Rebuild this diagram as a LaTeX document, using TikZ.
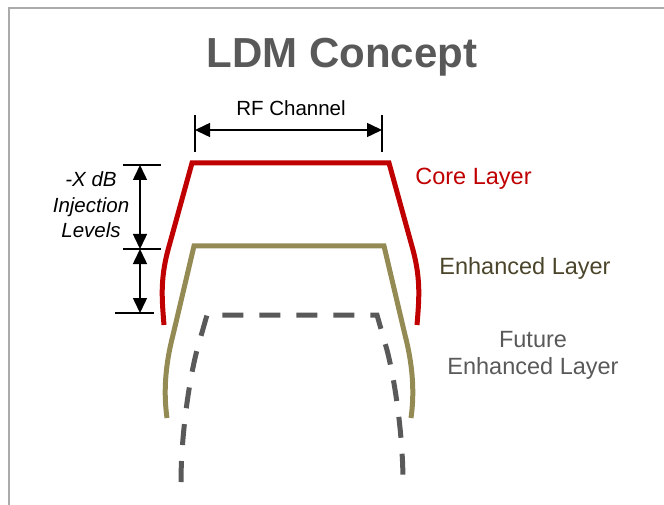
\documentclass[tikz,border=0pt]{standalone}
\usepackage{fontspec}
\setmainfont{Liberation Sans}
\usetikzlibrary{arrows.meta}
\definecolor{corered}{HTML}{C00000}
\definecolor{olivegreen}{HTML}{948A54}
\definecolor{olivetext}{HTML}{4A452A}
\definecolor{futgray}{HTML}{595959}
\definecolor{framegray}{HTML}{ABABAB}
\tikzset{
  tickline/.style={black, line width=2.2pt},
  dimarrow/.style={black, line width=1.5pt, {Triangle[length=15pt,width=14pt]}-{Triangle[length=15pt,width=14pt]}},
  corepath/.style={corered, line width=5pt, line join=miter},
  enhpath/.style={olivegreen, line width=5pt, line join=miter},
  futpath/.style={futgray, line width=5pt, line join=miter, dash pattern=on 21pt off 16pt},
  lbl/.style={anchor=base, inner sep=0pt, font=\fontsize{23.5}{28}\selectfont},
  small/.style={anchor=base, inner sep=0pt, font=\fontsize{20.5}{25}\selectfont}
}
\begin{document}
\begin{tikzpicture}[x=1pt, y=-1pt]
\useasboundingbox (0,0) rectangle (664,505);
% frame
\draw[framegray, line width=2pt] (9,505) -- (9,8) -- (664,8);
% title
\node[anchor=base, inner sep=0pt, text=futgray, font=\fontsize{42}{50}\selectfont\bfseries] (title) at (342,68) {LDM Concept};
% RF channel
\node[small] (rf) at (291,116) {RF Channel};
\coordinate (rfLt) at (195,115);
\coordinate (rfLb) at (195,152);
\coordinate (rfRt) at (382,115);
\coordinate (rfRb) at (382,152);
\coordinate (rfLa) at (195,130);
\coordinate (rfRa) at (382,130);
\draw[tickline] (rfLt) -- (rfLb);
\draw[tickline] (rfRt) -- (rfRb);
\draw[dimarrow] (rfLa) -- (rfRa);
% injection levels
\coordinate (t1a) at (123,165);
\coordinate (t1b) at (161,165);
\coordinate (t2a) at (123,249);
\coordinate (t2b) at (161,249);
\coordinate (t3a) at (115,313);
\coordinate (t3b) at (154,313);
\coordinate (v1) at (140,165);
\coordinate (v2) at (140,249);
\coordinate (v3) at (140,313);
\draw[tickline] (t1a) -- (t1b);
\draw[tickline] (t2a) -- (t2b);
\draw[tickline] (t3a) -- (t3b);
\draw[dimarrow] (v1) -- (v2);
\draw[dimarrow] (v2) -- (v3);
\node[small, font=\fontsize{20.5}{25}\selectfont\itshape] (inj1) at (91,187) {-X dB};
\node[small, font=\fontsize{20.5}{25}\selectfont\itshape] (inj2) at (91,213) {Injection};
\node[small, font=\fontsize{20.5}{25}\selectfont\itshape] (inj3) at (91,238) {Levels};
% core layer
\draw[corepath] (164,325) .. controls (162,300) and (160,280) .. (168,250) -- (192,163) -- (389,163) -- (413,250) .. controls (421,280) and (419,300) .. (417,325);
% enhanced layer
\draw[enhpath] (167,418) .. controls (163,390) and (166,362) .. (173,335) -- (194,246) -- (384,246) -- (405,335) .. controls (412,362) and (415,390) .. (411,418);
% future layer
\draw[futpath] (181,482) .. controls (181,440) and (188,385) .. (197,350) -- (207,315) -- (377,315) -- (387,350) .. controls (396,385) and (403,440) .. (403,482);
% labels
\node[lbl, text=corered] (core) at (473.5,185) {Core Layer};
\node[lbl, text=olivetext] (enh) at (525,274) {Enhanced Layer};
\node[lbl, text=futgray] (futA) at (533,347) {Future};
\node[lbl, text=futgray] (futB) at (533,374) {Enhanced Layer};
\end{tikzpicture}
\end{document}
